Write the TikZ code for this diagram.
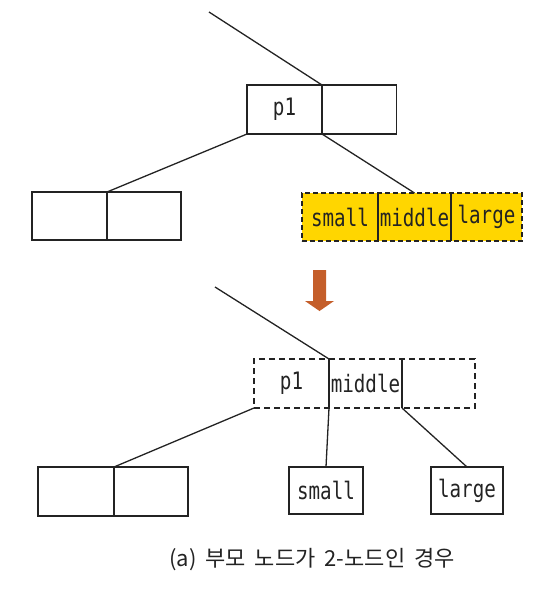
\documentclass[tikz,border=0pt]{standalone}
\usepackage{fontspec}
\newfontfamily\mono[FakeStretch=0.8]{DejaVu Sans Mono}
\newfontfamily\kor{Noto Sans CJK KR}
\definecolor{linec}{RGB}{35,35,35}
\definecolor{yel}{RGB}{255,214,0}
\definecolor{arrowc}{RGB}{196,94,42}
\begin{document}
\begin{tikzpicture}[x=1pt,y=-1pt,
  cell/.style={minimum height=49pt, inner sep=0pt, outer sep=0pt, font=\mono\fontsize{24}{24}\selectfont, text=linec},
  boxcell/.style={cell, draw=linec, line width=1.3pt},
  link/.style={draw=linec, line width=1.3pt}]
\useasboundingbox (0,0) rectangle (540,590);
% top node
\node[boxcell, minimum width=75pt] (t1) at (284.5,109.5) {p1};
\node[boxcell, minimum width=74pt] (t2) at (359.5,109.5) {};
\coordinate (ttop) at (209,12);
\draw[link] (ttop) -- (t1.north east);
% left node
\node[boxcell, minimum width=75pt, minimum height=48pt] (l1) at (69.5,216) {};
\node[boxcell, minimum width=74pt, minimum height=48pt] (l2) at (144,216) {};
% yellow node
\node[cell, minimum width=220pt, minimum height=48pt, fill=yel, draw=linec, line width=1.3pt, dash pattern=on 5pt off 3pt] (yel) at (412,217) {};
\node[cell, minimum width=76pt, minimum height=48pt] (y1) at (340,217) {small};
\node[cell, minimum width=73pt, minimum height=48pt] (y2) at (414.5,217) {middle};
\node[cell, minimum width=71pt, minimum height=48pt] (y3) at (486.5,217) {large};
\draw[link] (y2.north west) -- (y2.south west);
\draw[link] (y3.north west) -- (y3.south west);
\draw[link] (t1.south west) -- (l1.north east);
\draw[link] (t1.south east) -- (y2.north);
% arrow
\fill[arrowc] (313,270) -- (326,270) -- (326,301) -- (334,301) -- (319.5,311) -- (305,301) -- (313,301) -- cycle;
% bottom dashed node
\node[cell, minimum width=221pt, draw=linec, line width=1.3pt, dash pattern=on 6pt off 4pt] (bd) at (364.5,383.5) {};
\node[cell, minimum width=75pt] (b1) at (291.5,383.5) {p1};
\node[cell, minimum width=73pt] (b2) at (365.5,383.5) {middle};
\node[cell, minimum width=73pt] (b3) at (438.5,383.5) {};
\draw[link] (b2.north west) -- (b2.south west);
\draw[link] (b2.north east) -- (b2.south east);
\coordinate (btop) at (215,287);
\draw[link] (btop) -- (b2.north west);
% bottom leaves
\node[boxcell, minimum width=76pt] (bl1) at (76,491.5) {};
\node[boxcell, minimum width=74pt] (bl2) at (151,491.5) {};
\node[boxcell, minimum width=74pt, minimum height=47pt] (sm) at (326,490.5) {small};
\node[boxcell, minimum width=72pt, minimum height=47pt] (lg) at (467,490.5) {large};
\draw[link] (b1.south west) -- (bl1.north east);
\draw[link] (b2.south west) -- (sm.north);
\draw[link] (b2.south east) -- (lg.north);
% caption
\node[inner sep=0pt, font=\kor\fontsize{22}{22}\selectfont, text=linec] (cap) at (312,560) {(a)\hspace{9pt}부모\hspace{9pt}노드가\hspace{9pt}2-노드인\hspace{9pt}경우};
\end{tikzpicture}
\end{document}
